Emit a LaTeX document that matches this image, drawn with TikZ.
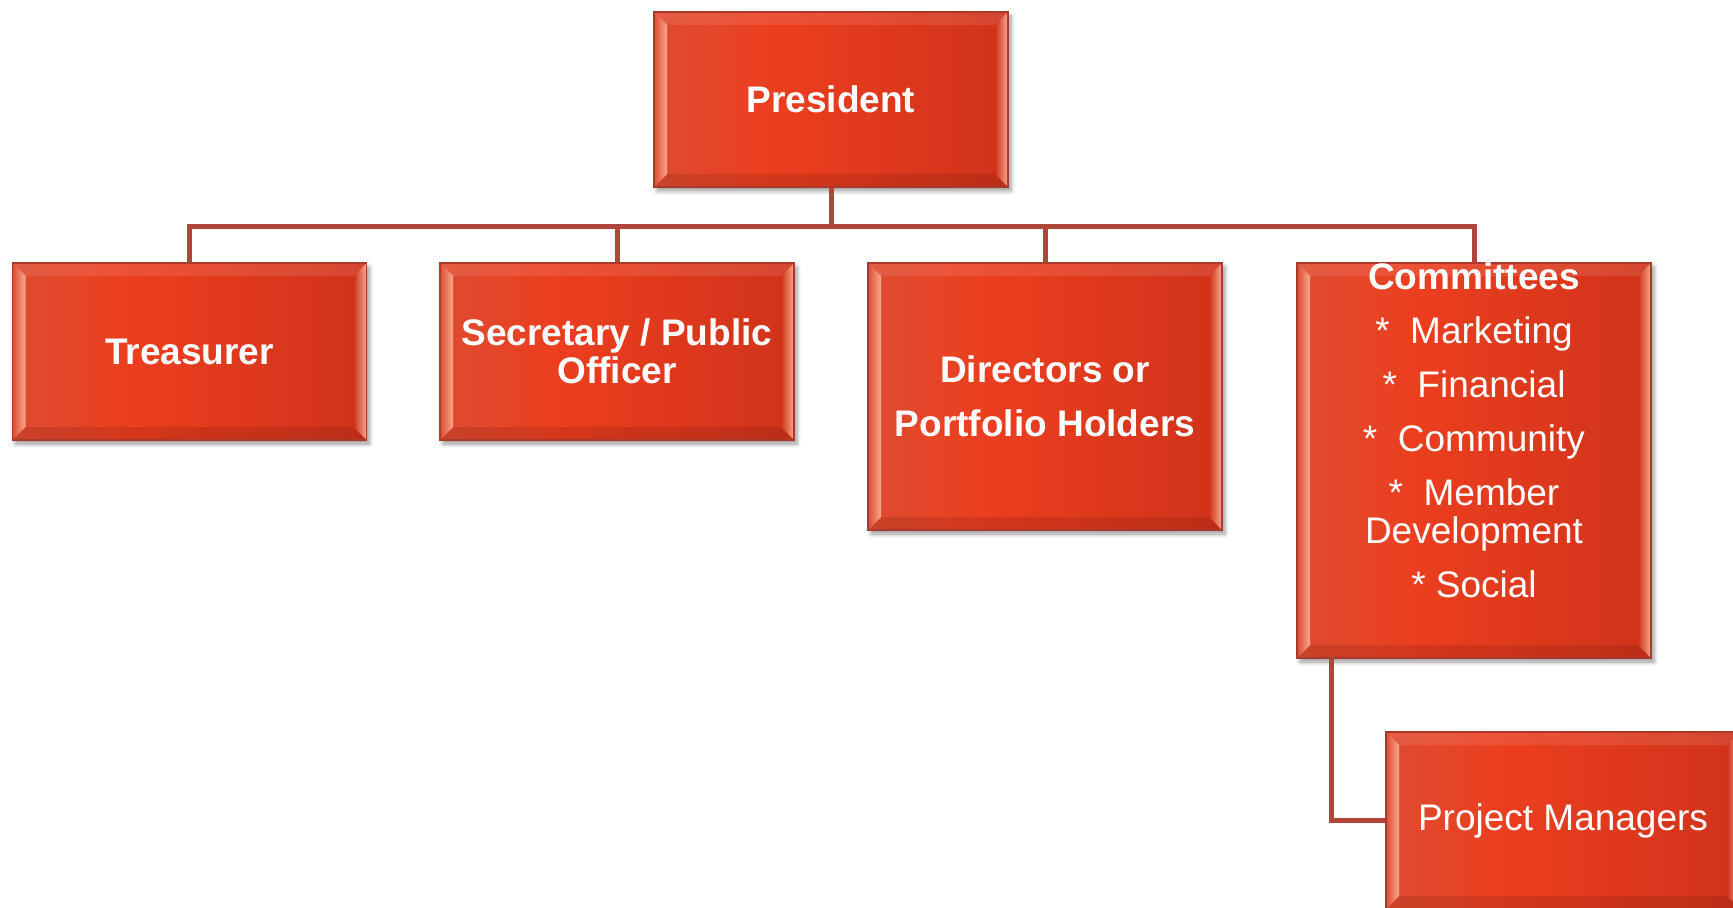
\documentclass[tikz,border=0pt]{standalone}
\usepackage{fontspec}
\setmainfont{Liberation Sans}
\usetikzlibrary{shadows.blur}
\definecolor{faceLeft}{HTML}{DF4B30}
\definecolor{faceMid}{HTML}{EC3E1F}
\definecolor{faceRight}{HTML}{D0331A}
\definecolor{edgeRed}{HTML}{A9392B}
\definecolor{linkRed}{HTML}{B0463A}
\definecolor{bevelPink}{HTML}{F7A98F}
\pgfdeclarehorizontalshading{boxface}{100bp}{color(0bp)=(faceLeft); color(25bp)=(faceLeft);
  color(42bp)=(faceMid); color(75bp)=(faceRight); color(100bp)=(faceRight)}
% raised edges of a box, drawn inside its own border
\newcommand{\boxbevel}{%
  \coordinate (bnw) at (path picture bounding box.north west);
  \coordinate (bne) at (path picture bounding box.north east);
  \coordinate (bsw) at (path picture bounding box.south west);
  \coordinate (bse) at (path picture bounding box.south east);
  \fill[white, opacity=.10] (bnw) -- (bne) -- ([xshift=-6.5pt,yshift=-6.5pt]bne) -- ([xshift=6.5pt,yshift=-6.5pt]bnw) -- cycle;
  \fill[black, opacity=.10] (bsw) -- (bse) -- ([xshift=-6.5pt,yshift=6.5pt]bse) -- ([xshift=6.5pt,yshift=6.5pt]bsw) -- cycle;
  \shade[left color=faceLeft, right color=bevelPink] (bnw) -- ([xshift=6.5pt,yshift=-6.5pt]bnw) -- ([xshift=6.5pt,yshift=6.5pt]bsw) -- (bsw) -- cycle;
  \shade[left color=faceRight, right color=bevelPink] (bne) -- ([xshift=-6.5pt,yshift=-6.5pt]bne) -- ([xshift=-6.5pt,yshift=6.5pt]bse) -- (bse) -- cycle;
}
\tikzset{
  role/.style={draw=edgeRed, line width=0.8pt, shading=boxface, shade,
    blur shadow={shadow xshift=1.5pt, shadow yshift=-2pt, shadow blur steps=6, shadow opacity=40},
    path picture={\boxbevel},
    minimum width=177pt, minimum height=88.5pt, inner sep=0pt, align=center,
    text=white, font=\bfseries\fontsize{18.5}{19}\selectfont},
  plain/.style={font=\fontsize{18.5}{19}\selectfont},
  listtext/.style={text=white, align=center, inner sep=0pt, font=\fontsize{18.5}{19}\selectfont},
  link/.style={draw=linkRed, line width=2.5pt},
  branch/.style={to path={-- ++(0,39) -| (\tikztotarget)}}
}

\begin{document}
\begin{tikzpicture}[x=0.5pt, y=-0.5pt]
  \useasboundingbox (0,0) rectangle (1733,908);
  \node[role, minimum height=87.5pt] at (831,99.5) (pres) {President};
  \node[role] at (189.5,351.5) (treas) {Treasurer};
  \node[role] at (617,351.5) (sec) {Secretary / Public\\Officer};
  \node[role, minimum height=133.5pt] at (1045,396.5) (dir) {Directors or\\[8pt]Portfolio Holders};
  \node[role, minimum height=197.5pt] at (1474,460.5) (comm) {};
  \node[role, plain] at (1563,820.5) (pm) {Project Managers};
  \path (pres.south) edge[link, branch] (treas.north);
  \path (pres.south) edge[link, branch] (sec.north);
  \path (pres.south) edge[link, branch] (dir.north);
  \path (pres.south) edge[link, branch] (comm.north);
  \path ([xshift=17.5pt]comm.south west) edge[link, to path={|- (\tikztotarget)}] (pm.west);
  \node[listtext, anchor=north] at (comm.north) (commlist) {\textbf{Committees}\\[8pt]
    *\ \ Marketing\\[8pt]
    *\ \ Financial\\[8pt]
    *\ \ Community\\[8pt]
    *\ \ Member\\Development\\[8pt]
    * Social};
\end{tikzpicture}
\end{document}
